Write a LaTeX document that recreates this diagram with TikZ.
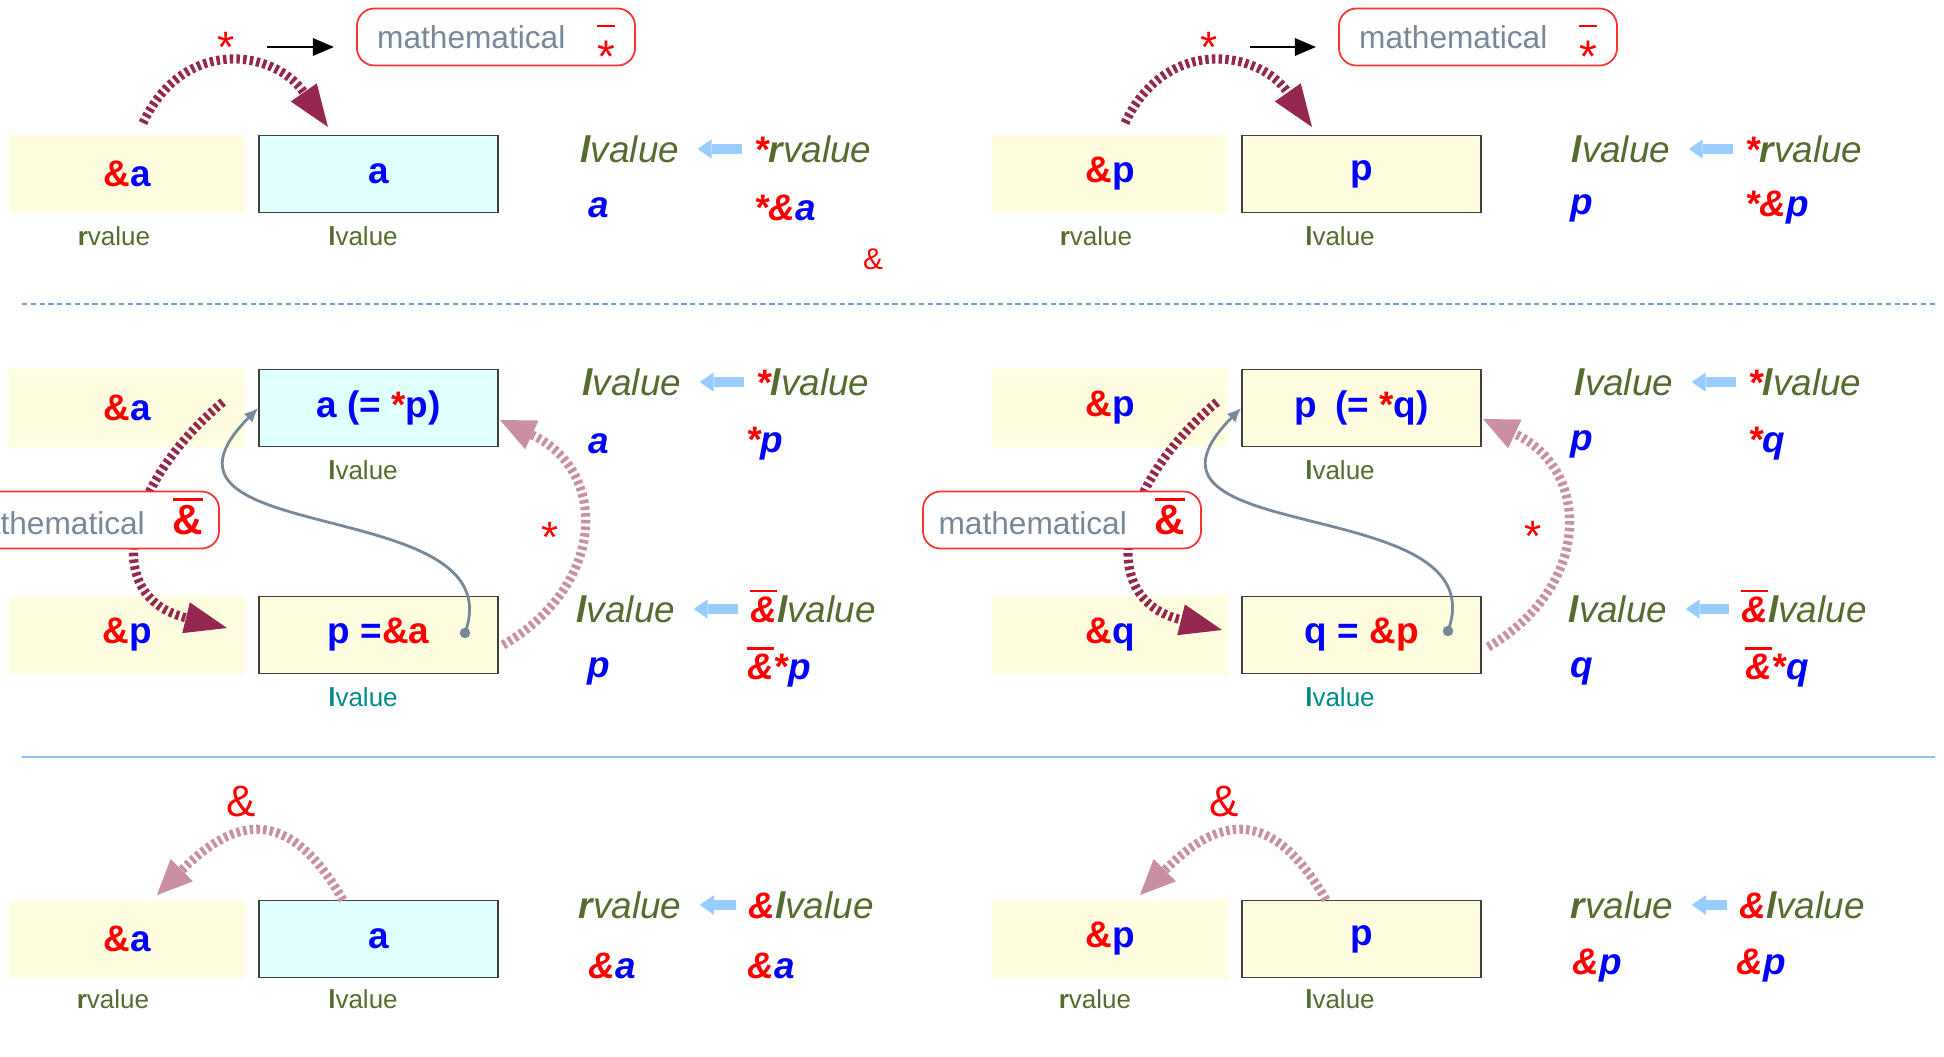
\documentclass[tikz,border=0pt]{standalone}
\usepackage{fontspec}
\setmainfont{Liberation Sans}
\usetikzlibrary{arrows.meta,positioning}
\definecolor{RefRed}{HTML}{FF0000}
\definecolor{RefBlue}{HTML}{0000FF}
\definecolor{RefOlive}{HTML}{556B2F}
\definecolor{RefTeal}{HTML}{008B8B}
\definecolor{RefCream}{HTML}{FFFDE0}
\definecolor{RefIce}{HTML}{E0FFFF}
\definecolor{RefEdge}{HTML}{404040}
\definecolor{RefSlate}{HTML}{778899}
\definecolor{RefMaroon}{HTML}{94264F}
\definecolor{RefRose}{HTML}{C98FA2}
\definecolor{RefSky}{HTML}{99CCFF}
\definecolor{RefRule}{HTML}{6E9FD6}
\definecolor{RefLine}{HTML}{8CC3F2}
\definecolor{RefOpEdge}{HTML}{FF3333}
\newcommand{\rd}[1]{\textcolor{RefRed}{#1}}
\newcommand{\bl}[1]{\textcolor{RefBlue}{#1}}
\newcommand{\ovbar}[1]{\setbox0\hbox{#1}\rlap{\smash{\raisebox{\dimexpr\ht0+1.2pt\relax}{\rule{\wd0}{0.8pt}}}}\box0}
\newcommand{\lowstar}{\ovbar{\vphantom{x}\smash{\raisebox{-7pt}{\fontsize{13}{13}\selectfont *}}}}
\tikzset{
  refaddr/.style={
    fill=RefCream,
    minimum width=2.35cm,
    minimum height=0.77cm,
    inner sep=0pt,
    font=\fontsize{10.5}{12}\selectfont\bfseries
  },
  refcell/.style={refaddr,draw=RefEdge,line width=0.45pt,minimum width=2.39cm},
  reftag/.style={font=\fontsize{7.4}{9}\selectfont,text=RefOlive,inner sep=1pt},
  refterm/.style={font=\fontsize{10.5}{12}\selectfont\itshape,text=RefOlive},
  refval/.style={font=\fontsize{10.5}{12}\selectfont\bfseries\itshape,text=RefBlue},
  refop/.style={
    draw=RefOpEdge,
    line width=0.5pt,
    fill=white,
    rounded corners=5pt,
    minimum width=2.78cm,
    minimum height=0.57cm,
    inner sep=0pt,
    text=RefSlate,
    font=\fontsize{9}{11}\selectfont
  },
  refsign/.style={text=RefRed,font=\fontsize{12.5}{14}\selectfont},
  refderef/.style={-{Triangle[length=12pt,width=9pt,line width=0pt]},draw=RefMaroon,line width=2.6pt,dash pattern=on 1pt off 0.9pt},
  refback/.style={refderef,draw=RefRose,-{Triangle[length=10pt,width=9pt,line width=0pt]}},
  reflink/.style={-{Latex[length=4pt,width=3.5pt]},draw=RefSlate,line width=0.8pt},
  refdot/.style={circle,fill=RefSlate,minimum size=3pt,inner sep=0pt},
  refimply/.style={-{Triangle[length=4pt,width=5.5pt,line width=0pt]},draw=RefSky,line width=2.6pt,shorten >=1.7pt},
  refpoint/.style={-{Triangle[length=6pt,width=5pt]},draw=black,line width=0.5pt,shorten <=5.7pt,shorten >=6.3pt},
  refdash/.style={draw=RefRule,line width=0.4pt,dash pattern=on 1.5pt off 1pt},
  refrule/.style={draw=RefLine,line width=0.6pt}
}
\begin{document}
\begin{tikzpicture}[x=0.01cm,y=-0.01cm]
  \clip (0,0) rectangle (1944,1057);
  \coordinate (ruleL1) at (22,304);
  \coordinate (ruleR1) at (1935,304);
  \coordinate (ruleL2) at (22,757);
  \coordinate (ruleR2) at (1935,757);
  \draw[refdash] (ruleL1) -- (ruleR1);
  \draw[refrule] (ruleL2) -- (ruleR2);

  % top row
  \node[refaddr] (addrA1) at (127,174) {\rd{\&}\bl{a}};
  \node[refcell,fill=RefIce,right=0.13cm of addrA1] (cellA1) {\bl{a}};
  \node[reftag] (tagA1) at (114,236) {\textbf{r}value};
  \node[reftag] (tagA1b) at (363,236) {\textbf{l}value};
  \coordinate (derefA1) at (143,123);
  \coordinate (derefA2) at (328,127);
  \draw[refderef] (derefA1) to[out=65,in=125,distance=0.95cm] (derefA2);
  \node[refsign] (starA1) at (226,47) {*};
  \node[refop] (mathA1) at (496,37) {mathematical\hspace{9pt}\rd{\lowstar}\hspace{5pt}};
  \draw[refpoint] (starA1.east) -- (starA1.east -| mathA1.west);
  \node[refterm] (lvA1) at (630,149) {\textbf{l}value};
  \node[refterm] (rvA1) at (813,149) {\rd{\textbf{*}}\textbf{r}value};
  \draw[refimply] (rvA1.west |- lvA1.east) -- (lvA1.east);
  \node[refval] (valA1) at (599,208) {a};
  \node[refval] (valA1b) at (785,208) {\rd{*\&}a};
  \node[refsign,font=\fontsize{8.5}{10}\selectfont] (ampA0) at (873,259) {\&};

  \node[refaddr] (addrP1) at (1110,174) {\rd{\&}\bl{p}};
  \node[refcell,right=0.13cm of addrP1] (cellP1) {\bl{p}};
  \node[reftag] (tagP1) at (1096,236) {\textbf{r}value};
  \node[reftag] (tagP1b) at (1340,236) {\textbf{l}value};
  \coordinate (derefP1) at (1125,123);
  \coordinate (derefP2) at (1312,127);
  \draw[refderef] (derefP1) to[out=65,in=125,distance=0.95cm] (derefP2);
  \node[refsign] (starP1) at (1209,47) {*};
  \node[refop] (mathP1) at (1478,37) {mathematical\hspace{9pt}\rd{\lowstar}\hspace{5pt}};
  \draw[refpoint] (starP1.east) -- (starP1.east -| mathP1.west);
  \node[refterm] (lvP1) at (1621,149) {\textbf{l}value};
  \node[refterm] (rvP1) at (1804,149) {\rd{\textbf{*}}\textbf{r}value};
  \draw[refimply] (rvP1.west |- lvP1.east) -- (lvP1.east);
  \node[refval] (valP1) at (1582,208) {p};
  \node[refval] (valP1b) at (1777,208) {\rd{*\&}p};

  % middle rows
  \node[refaddr] (addrA2) at (127,408) {\rd{\&}\bl{a}};
  \node[refcell,fill=RefIce,right=0.13cm of addrA2] (cellA2) {\bl{a (= \rd{*}p)}};
  \node[refaddr] (addrP2) at (127,635) {\rd{\&}\bl{p}};
  \node[refcell,right=0.13cm of addrP2] (cellP2) {\bl{p =\rd{\&a}}};
  \node[reftag] (tagA2) at (363,470) {\textbf{l}value};
  \node[reftag,text=RefTeal] (tagP2) at (363,697) {\textbf{l}value};
  \coordinate (derefA3) at (223,402);
  \coordinate (derefA4) at (227,628);
  \draw[refderef] (derefA3) to[out=220,in=166,distance=1.3cm] (derefA4);
  \node[refop] (mathA2) at (80,520) {mathematical\hspace{8pt}\rd{\ovbar{\fontsize{12}{12}\selectfont\bfseries\&}}};
  \node[refdot] (dotA) at (465,633) {};
  \draw[reflink] (dotA.center) to[out=70,in=225,out distance=1.5cm,in distance=2cm] (cellA2.west);
  \coordinate (backA1) at (503,645);
  \coordinate (backA2) at (500,420);
  \draw[refback] (backA1) to[out=30,in=-25,distance=1.2cm] (backA2);
  \node[refsign] (starA2) at (550,537) {*};
  \node[refterm] (lvA2) at (632,382) {\textbf{l}value};
  \node[refterm] (rvA2) at (813,382) {\rd{\textbf{*}}\textbf{l}value};
  \draw[refimply] (rvA2.west |- lvA2.east) -- (lvA2.east);
  \node[refval] (valA2) at (599,444) {a};
  \node[refval] (valA2b) at (765,444) {\rd{*}p};
  \node[refterm] (lvA3) at (626,609) {\textbf{l}value};
  \node[refterm] (rvA3) at (813,609) {\rd{\ovbar{\textbf{\&}}}\textbf{l}value};
  \draw[refimply] (rvA3.west |- lvA3.east) -- (lvA3.east);
  \node[refval] (valA3) at (599,671) {p};
  \node[refval] (valA3b) at (779,671) {\rd{\ovbar{\&}*}p};

  \node[refaddr] (addrP3) at (1110,408) {\rd{\&}\bl{p}};
  \node[refcell,right=0.13cm of addrP3] (cellP3) {\bl{p\hspace{0.5em}(= \rd{*}q)}};
  \node[refaddr] (addrQ3) at (1110,635) {\rd{\&}\bl{q}};
  \node[refcell,right=0.13cm of addrQ3] (cellQ3) {\bl{q = \rd{\&p}}};
  \node[reftag] (tagP3) at (1340,470) {\textbf{l}value};
  \node[reftag,text=RefTeal] (tagQ3) at (1340,697) {\textbf{l}value};
  \coordinate (derefP3) at (1217,402);
  \coordinate (derefP4) at (1222,630);
  \draw[refderef] (derefP3) to[out=220,in=166,distance=1.3cm] (derefP4);
  \node[refop] (mathP2) at (1062,520) {mathematical\hspace{8pt}\rd{\ovbar{\fontsize{12}{12}\selectfont\bfseries\&}}};
  \node[refdot] (dotQ) at (1448,631) {};
  \draw[reflink] (dotQ.center) to[out=70,in=225,out distance=1.5cm,in distance=2cm] (cellP3.west);
  \coordinate (backP1) at (1488,647);
  \coordinate (backP2) at (1483,419);
  \draw[refback] (backP1) to[out=30,in=-25,distance=1.2cm] (backP2);
  \node[refsign] (starP2) at (1533,536) {*};
  \node[refterm] (lvP2) at (1624,382) {\textbf{l}value};
  \node[refterm] (rvP2) at (1805,382) {\rd{\textbf{*}}\textbf{l}value};
  \draw[refimply] (rvP2.west |- lvP2.east) -- (lvP2.east);
  \node[refval] (valP2) at (1582,444) {p};
  \node[refval] (valP2b) at (1767,444) {\rd{*}q};
  \node[refterm] (lvQ3) at (1618,609) {\textbf{l}value};
  \node[refterm] (rvQ3) at (1804,609) {\rd{\ovbar{\textbf{\&}}}\textbf{l}value};
  \draw[refimply] (rvQ3.west |- lvQ3.east) -- (lvQ3.east);
  \node[refval] (valQ3) at (1582,671) {q};
  \node[refval] (valQ3b) at (1777,671) {\rd{\ovbar{\&}*}q};

  % bottom row
  \node[refaddr] (addrA4) at (127,939) {\rd{\&}\bl{a}};
  \node[refcell,fill=RefIce,right=0.13cm of addrA4] (cellA4) {\bl{a}};
  \node[reftag] (tagA4) at (113,999) {\textbf{r}value};
  \node[reftag] (tagA4b) at (363,999) {\textbf{l}value};
  \coordinate (backA3) at (343,900);
  \coordinate (backA4) at (157,895);
  \draw[refback] (backA3) to[out=120,in=45,distance=1.1cm] (backA4);
  \node[refsign] (ampA4) at (241,801) {\&};
  \node[refterm] (rvA4) at (630,905) {\textbf{r}value};
  \node[refterm] (lvA4) at (811,905) {\rd{\textbf{\&}}\textbf{l}value};
  \draw[refimply] (lvA4.west |- rvA4.east) -- (rvA4.east);
  \node[refval] (valA4) at (612,966) {\rd{\&}a};
  \node[refval] (valA4b) at (771,966) {\rd{\&}a};

  \node[refaddr] (addrP4) at (1110,939) {\rd{\&}\bl{p}};
  \node[refcell,right=0.13cm of addrP4] (cellP4) {\bl{p}};
  \node[reftag] (tagP4) at (1095,999) {\textbf{r}value};
  \node[reftag] (tagP4b) at (1340,999) {\textbf{l}value};
  \coordinate (backP3) at (1326,900);
  \coordinate (backP4) at (1140,895);
  \draw[refback] (backP3) to[out=120,in=45,distance=1.1cm] (backP4);
  \node[refsign] (ampP4) at (1224,801) {\&};
  \node[refterm] (rvP4) at (1622,905) {\textbf{r}value};
  \node[refterm] (lvP4) at (1802,905) {\rd{\textbf{\&}}\textbf{l}value};
  \draw[refimply] (lvP4.west |- rvP4.east) -- (rvP4.east);
  \node[refval] (valP4) at (1597,966) {\rd{\&}p};
  \node[refval] (valP4b) at (1761,966) {\rd{\&}p};
\end{tikzpicture}
\end{document}
